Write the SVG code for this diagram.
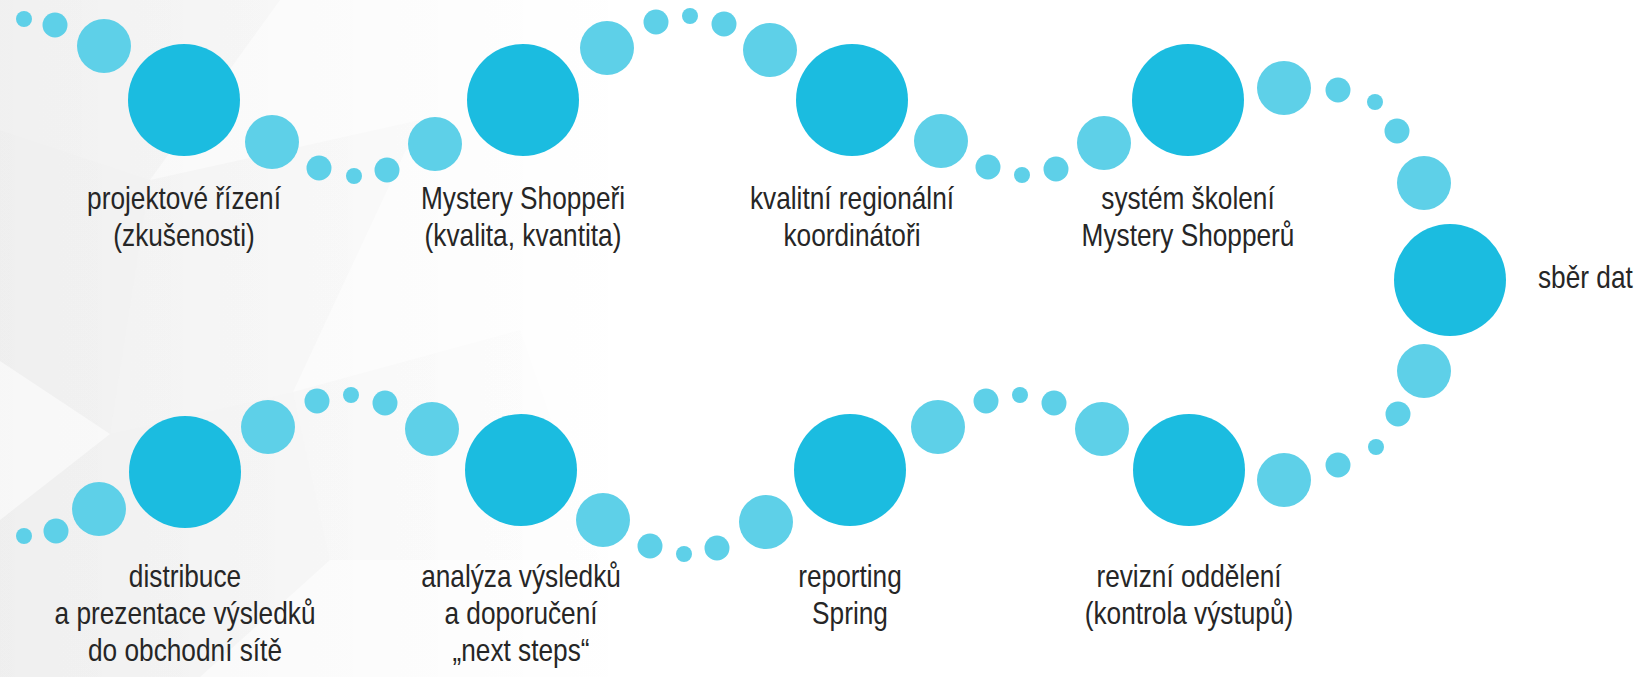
<svg xmlns="http://www.w3.org/2000/svg" width="1640" height="677" viewBox="0 0 1640 677">
  <defs>
    <style>
      .big { fill: #1bbce0; }
      .med { fill: #5ed0e8; }
      .lbl { font-family: "Liberation Sans", Arial, sans-serif; font-size: 32px; fill: #262626; text-anchor: middle; }
    </style>
    <linearGradient id="fadeA" gradientUnits="userSpaceOnUse" x1="0" y1="0" x2="700" y2="0">
      <stop offset="0" stop-color="#000" stop-opacity="0.035"/>
      <stop offset="0.6" stop-color="#000" stop-opacity="0.015"/>
      <stop offset="1" stop-color="#000" stop-opacity="0"/>
    </linearGradient>
    <linearGradient id="fadeB" gradientUnits="userSpaceOnUse" x1="0" y1="0" x2="650" y2="0">
      <stop offset="0" stop-color="#000" stop-opacity="0.03"/>
      <stop offset="1" stop-color="#000" stop-opacity="0"/>
    </linearGradient>
  </defs>

  <rect x="0" y="0" width="1640" height="677" fill="#ffffff"/>

  <!-- faint faceted background -->
  <g id="background">
    <polygon points="0,0 720,0 720,677 0,677" fill="url(#fadeB)"/>
    <polygon points="0,130 150,180 110,434 0,361" fill="url(#fadeA)"/>
    <polygon points="110,434 293,392 330,560 200,677 0,677 0,520" fill="url(#fadeA)"/>
    <polygon points="150,180 420,120 293,392 110,434" fill="url(#fadeB)"/>
    <polygon points="0,0 280,0 150,180 0,130" fill="url(#fadeB)"/>
    <polygon points="293,392 520,330 600,560 330,560" fill="url(#fadeB)"/>
  </g>

  <g id="connectors">
    <!-- lead-in -->
    <circle class="med" cx="24" cy="19" r="8"/>
    <circle class="med" cx="55" cy="25" r="12.5"/>
    <circle class="med" cx="104" cy="46" r="27"/>
    <!-- 1 -> 2 -->
    <circle class="med" cx="272" cy="142" r="27"/>
    <circle class="med" cx="319" cy="168" r="12.5"/>
    <circle class="med" cx="354" cy="176" r="8"/>
    <circle class="med" cx="387" cy="170" r="12.5"/>
    <circle class="med" cx="435" cy="144" r="27"/>
    <!-- 2 -> 3 -->
    <circle class="med" cx="607" cy="48" r="27"/>
    <circle class="med" cx="656" cy="22" r="12.5"/>
    <circle class="med" cx="690" cy="16" r="8"/>
    <circle class="med" cx="724" cy="24" r="12.5"/>
    <circle class="med" cx="770" cy="50" r="27"/>
    <!-- 3 -> 4 -->
    <circle class="med" cx="941" cy="141" r="27"/>
    <circle class="med" cx="988" cy="167" r="12.5"/>
    <circle class="med" cx="1022" cy="175" r="8"/>
    <circle class="med" cx="1056" cy="169" r="12.5"/>
    <circle class="med" cx="1104" cy="143" r="27"/>
    <!-- 4 -> 5 -->
    <circle class="med" cx="1284" cy="88" r="27"/>
    <circle class="med" cx="1338" cy="90" r="12.5"/>
    <circle class="med" cx="1375" cy="102" r="8"/>
    <circle class="med" cx="1397" cy="131" r="12.5"/>
    <circle class="med" cx="1424" cy="183" r="27"/>
    <!-- 5 -> 6 -->
    <circle class="med" cx="1424" cy="371" r="27"/>
    <circle class="med" cx="1398" cy="414" r="12.5"/>
    <circle class="med" cx="1376" cy="447" r="8"/>
    <circle class="med" cx="1338" cy="465" r="12.5"/>
    <circle class="med" cx="1284" cy="480" r="27"/>
    <!-- 6 -> 7 -->
    <circle class="med" cx="1102" cy="429" r="27"/>
    <circle class="med" cx="1054" cy="403" r="12.5"/>
    <circle class="med" cx="1020" cy="395" r="8"/>
    <circle class="med" cx="986" cy="401" r="12.5"/>
    <circle class="med" cx="938" cy="427" r="27"/>
    <!-- 7 -> 8 -->
    <circle class="med" cx="766" cy="522" r="27"/>
    <circle class="med" cx="717" cy="548" r="12.5"/>
    <circle class="med" cx="684" cy="554" r="8"/>
    <circle class="med" cx="650" cy="546" r="12.5"/>
    <circle class="med" cx="603" cy="520" r="27"/>
    <!-- 8 -> 9 -->
    <circle class="med" cx="432" cy="429" r="27"/>
    <circle class="med" cx="385" cy="403" r="12.5"/>
    <circle class="med" cx="351" cy="395" r="8"/>
    <circle class="med" cx="317" cy="401" r="12.5"/>
    <circle class="med" cx="268" cy="427" r="27"/>
    <!-- lead-out -->
    <circle class="med" cx="99" cy="509" r="27"/>
    <circle class="med" cx="56" cy="531" r="12.5"/>
    <circle class="med" cx="24" cy="536" r="8"/>
  </g>

  <g id="node-projektove-rizeni">
    <circle class="big" cx="184" cy="100" r="56"/>
    <text class="lbl" transform="matrix(0.82 0 0 1 184 0)" x="0" y="209">projektové řízení</text>
    <text class="lbl" transform="matrix(0.82 0 0 1 184 0)" x="0" y="246">(zkušenosti)</text>
  </g>

  <g id="node-mystery-shopperi">
    <circle class="big" cx="523" cy="100" r="56"/>
    <text class="lbl" transform="matrix(0.82 0 0 1 523 0)" x="0" y="209">Mystery Shoppeři</text>
    <text class="lbl" transform="matrix(0.82 0 0 1 523 0)" x="0" y="246">(kvalita, kvantita)</text>
  </g>

  <g id="node-koordinatori">
    <circle class="big" cx="852" cy="100" r="56"/>
    <text class="lbl" transform="matrix(0.82 0 0 1 852 0)" x="0" y="209">kvalitní regionální</text>
    <text class="lbl" transform="matrix(0.82 0 0 1 852 0)" x="0" y="246">koordinátoři</text>
  </g>

  <g id="node-skoleni">
    <circle class="big" cx="1188" cy="100" r="56"/>
    <text class="lbl" transform="matrix(0.82 0 0 1 1188 0)" x="0" y="209">systém školení</text>
    <text class="lbl" transform="matrix(0.82 0 0 1 1188 0)" x="0" y="246">Mystery Shopperů</text>
  </g>

  <g id="node-sber-dat">
    <circle class="big" cx="1450" cy="280" r="56"/>
    <text class="lbl" transform="matrix(0.82 0 0 1 1538 0)" x="0" y="288" style="text-anchor:start">sběr dat</text>
  </g>

  <g id="node-revizni-oddeleni">
    <circle class="big" cx="1189" cy="470" r="56"/>
    <text class="lbl" transform="matrix(0.82 0 0 1 1189 0)" x="0" y="587">revizní oddělení</text>
    <text class="lbl" transform="matrix(0.82 0 0 1 1189 0)" x="0" y="624">(kontrola výstupů)</text>
  </g>

  <g id="node-reporting">
    <circle class="big" cx="850" cy="470" r="56"/>
    <text class="lbl" transform="matrix(0.82 0 0 1 850 0)" x="0" y="587">reporting</text>
    <text class="lbl" transform="matrix(0.82 0 0 1 850 0)" x="0" y="624">Spring</text>
  </g>

  <g id="node-analyza">
    <circle class="big" cx="521" cy="470" r="56"/>
    <text class="lbl" transform="matrix(0.82 0 0 1 521 0)" x="0" y="587">analýza výsledků</text>
    <text class="lbl" transform="matrix(0.82 0 0 1 521 0)" x="0" y="624">a doporučení</text>
    <text class="lbl" transform="matrix(0.82 0 0 1 521 0)" x="0" y="661">„next steps“</text>
  </g>

  <g id="node-distribuce">
    <circle class="big" cx="185" cy="472" r="56"/>
    <text class="lbl" transform="matrix(0.82 0 0 1 185 0)" x="0" y="587">distribuce</text>
    <text class="lbl" transform="matrix(0.82 0 0 1 185 0)" x="0" y="624">a prezentace výsledků</text>
    <text class="lbl" transform="matrix(0.82 0 0 1 185 0)" x="0" y="661">do obchodní sítě</text>
  </g>
</svg>
